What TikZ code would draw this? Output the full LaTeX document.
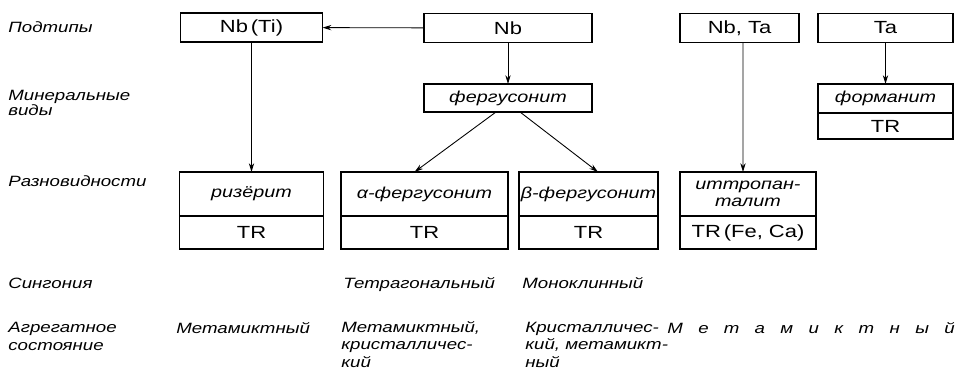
\documentclass[tikz,border=0pt]{standalone}
\usepackage{fontspec}
\setmainfont{Liberation Sans}[FakeStretch=1.25]
\usetikzlibrary{positioning,arrows.meta}

\begin{document}
\begin{tikzpicture}[box/.style={draw, line width=0.9pt, inner sep=0pt, outer sep=0pt, align=center, font=\fontsize{10}{10}\selectfont},
                    kind/.style={box, font=\fontsize{9}{10}\selectfont\itshape},
                    rowlabel/.style={anchor=base west, inner sep=0pt, align=left, font=\fontsize{8.5}{9.7}\selectfont\itshape},
                    arr/.style={-{Stealth[length=5pt,width=3pt]}, line width=0.5pt}]
                    \useasboundingbox (0,0) rectangle (19.16,7.5);
                    % row labels
                    \node[rowlabel] (lsub) at (0.16,6.84) {Подтипы};
                    \node[rowlabel, font=\fontsize{8.5}{8.8}\selectfont\itshape] (lmin) at (0.16,5.19) {Минеральные\\виды};
                    \node[rowlabel] (lvar) at (0.16,3.77) {Разновидности};
                    \node[rowlabel] (lsyn) at (0.16,1.72) {Сингония};
                    \node[rowlabel] (lagg) at (0.16,0.5) {Агрегатное\\состояние};
                    % subtypes
                    \node[box, minimum width=2.84cm, minimum height=0.58cm] (nbti) at (5.03,6.95) {Nb\,(Ti)};
                    \node[box, minimum width=3.36cm, minimum height=0.58cm] (nb) at (10.16,6.94) {Nb};
                    \node[box, minimum width=2.38cm, minimum height=0.58cm] (nbta) at (14.79,6.94) {Nb, Ta};
                    \node[box, minimum width=2.70cm, minimum height=0.58cm] (ta) at (17.71,6.94) {Ta};
                    % mineral species
                    \node[kind, minimum width=3.36cm, minimum height=0.56cm] (ferg) at (10.16,5.54) {фергусонит};
                    \node[kind, minimum width=2.70cm, minimum height=0.58cm] (form) at (17.71,5.53) {форманит};
                    \node[box, minimum width=2.70cm, minimum height=0.52cm, below=0pt of form] (formtr) {TR};
                    % varieties
                    \node[kind, minimum width=2.88cm, minimum height=0.88cm] (riz) at (5.03,3.62) {ризёрит};
                    \node[box, minimum width=2.88cm, minimum height=0.66cm, below=0pt of riz] (riztr) {TR};
                    \node[kind, minimum width=3.34cm, minimum height=0.88cm] (alpha) at (8.49,3.62) {α-фергусонит};
                    \node[box, minimum width=3.34cm, minimum height=0.66cm, below=0pt of alpha] (alphatr) {TR};
                    \node[kind, minimum width=2.78cm, minimum height=0.88cm] (beta) at (11.77,3.62) {β-фергусонит};
                    \node[box, minimum width=2.78cm, minimum height=0.66cm, below=0pt of beta] (betatr) {TR};
                    \node[kind, minimum width=2.72cm, minimum height=0.88cm] (ittr) at (14.96,3.62) {иттропан-\\талит};
                    \node[box, minimum width=2.72cm, minimum height=0.66cm, below=0pt of ittr] (ittrtr) {TR\,(Fe, Ca)};
                    % syngony and state
                    \node[rowlabel] (tetra) at (6.86,1.72) {Тетрагональный};
                    \node[rowlabel] (mono) at (10.44,1.72) {Моноклинный};
                    \node[rowlabel] (rizst) at (3.52,0.84) {Метамиктный};
                    \node[rowlabel] (alphast) at (6.82,0.16) {Метамиктный,\\кристалличес-\\ кий};
                    \node[rowlabel] (betast) at (10.5,0.16) {Кристалличес-\\кий, метамикт-\\ный};
                    \node[rowlabel, font=\fontsize{8.5}{8.5}\selectfont\itshape\addfontfeature{LetterSpace=103}] (ittrst) at (13.34,0.84) {Метамиктный};
                    % arrows
                    \draw (nb) edge[arr] (nbti);
                    \draw (nbti) edge[arr] (riz);
                    \draw (nb) edge[arr] (ferg);
                    \draw ([xshift=-0.24cm]ferg.south) edge[arr] ([xshift=-0.2cm]alpha.north);
                    \draw ([xshift=0.24cm]ferg.south) edge[arr] ([xshift=0.19cm]beta.north);
                    \draw ([xshift=0.07cm]nbta.south) edge[arr] ([xshift=-0.1cm]ittr.north);
                    \draw (ta) edge[arr] (form);
                \end{tikzpicture}
\end{document}
